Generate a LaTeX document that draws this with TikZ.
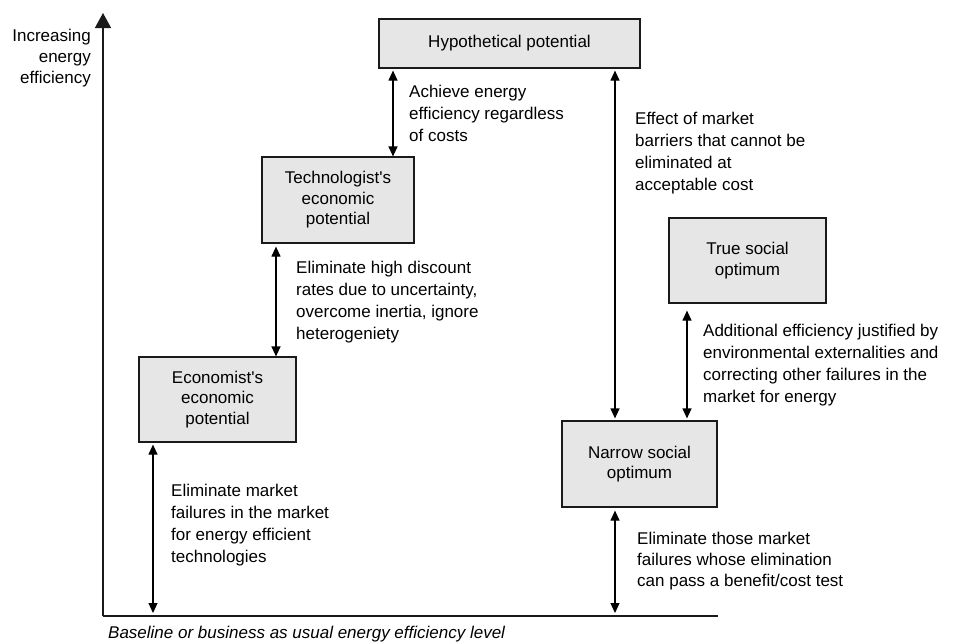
\documentclass[tikz,border=0pt]{standalone}
\usepackage{fontspec}
\setmainfont{Liberation Sans}
\usetikzlibrary{arrows.meta}
\definecolor{boxgray}{HTML}{E6E6E6}
\definecolor{linegray}{HTML}{1A1A1A}
\begin{document}
\begin{tikzpicture}[x=1pt,y=-1pt,
  box/.style={draw=linegray, line width=1.2pt, fill=boxgray, align=center,
    font=\fontsize{17}{20.5}\selectfont, inner sep=0pt},
  lbl/.style={anchor=north west, align=left, inner sep=0pt,
    font=\fontsize{17}{22.3}\selectfont},
  dbl/.style={{Triangle[length=10pt,width=9pt]}-{Triangle[length=10pt,width=9pt]}, line width=1.2pt},
  axisline/.style={line width=1.3pt, draw=linegray},
]
\useasboundingbox (0,0) rectangle (954,641);

% axes
\coordinate (O) at (103,616);
\coordinate (Ytop) at (103,13);
\coordinate (Xend) at (718,616);
\draw[axisline, -{Triangle[length=15pt,width=16pt]}] (O) -- (Ytop);
\draw[axisline] (O) -- (Xend);

% boxes
\node[box, minimum width=261pt, minimum height=49pt] (hyp) at (509.5,43.5) {Hypothetical potential};
\node[box, minimum width=152pt, minimum height=86pt] (tech) at (338,200) {Technologist\textquotesingle s\\economic\\potential};
\node[box, minimum width=157pt, minimum height=85pt] (econ) at (217.5,399.5) {Economist\textquotesingle s\\economic\\potential};
\node[box, minimum width=157pt, minimum height=85pt] (true) at (747.5,260.5) {True social\\optimum};
\node[box, minimum width=155pt, minimum height=86pt] (narrow) at (639.5,464) {Narrow social\\optimum};

% x positions of connectors
\coordinate (xa) at (393,0);
\coordinate (xb) at (276,0);
\coordinate (xc) at (153,0);
\coordinate (xd) at (615,0);
\coordinate (xe) at (687,0);

% connectors
\draw[dbl, shorten <=2pt] (hyp.south -| xa) -- (tech.north -| xa);
\draw[dbl, shorten <=3pt] (tech.south -| xb) -- (econ.north -| xb);
\draw[dbl, shorten <=2pt, shorten >=3pt] (econ.south -| xc) -- (O -| xc);
\draw[dbl, shorten <=2pt, shorten >=2pt] (hyp.south -| xd) -- (narrow.north -| xd);
\draw[dbl, shorten <=7pt, shorten >=2pt] (true.south -| xe) -- (narrow.north -| xe);
\draw[dbl, shorten <=3pt, shorten >=3pt] (narrow.south -| xd) -- (O -| xd);

% labels
\node[lbl, anchor=north east, align=right, font=\fontsize{17}{21}\selectfont] (ylab) at (91,28.5) {Increasing\\energy\\efficiency};
\node[lbl] (la) at (409,84.5) {Achieve energy\\efficiency regardless\\of costs};
\node[lbl] (lb) at (635,111.5) {Effect of market\\barriers that cannot be\\eliminated at\\acceptable cost};
\node[lbl] (lc) at (296,260.5) {Eliminate high discount\\rates due to uncertainty,\\overcome inertia, ignore\\heterogeniety};
\node[lbl] (ld) at (703,323.5) {Additional efficiency justified by\\environmental externalities and\\correcting other failures in the\\market for energy};
\node[lbl] (le) at (171,483.5) {Eliminate market\\failures in the market\\for energy efficient\\technologies};
\node[lbl, font=\fontsize{17}{21}\selectfont] (lf) at (637,531.5) {Eliminate those market\\failures whose elimination\\can pass a benefit/cost test};
\node[lbl, font=\fontsize{17}{21}\selectfont\itshape] (xlab) at (108,625.5) {Baseline or business as usual energy efficiency level};
\end{tikzpicture}
\end{document}
